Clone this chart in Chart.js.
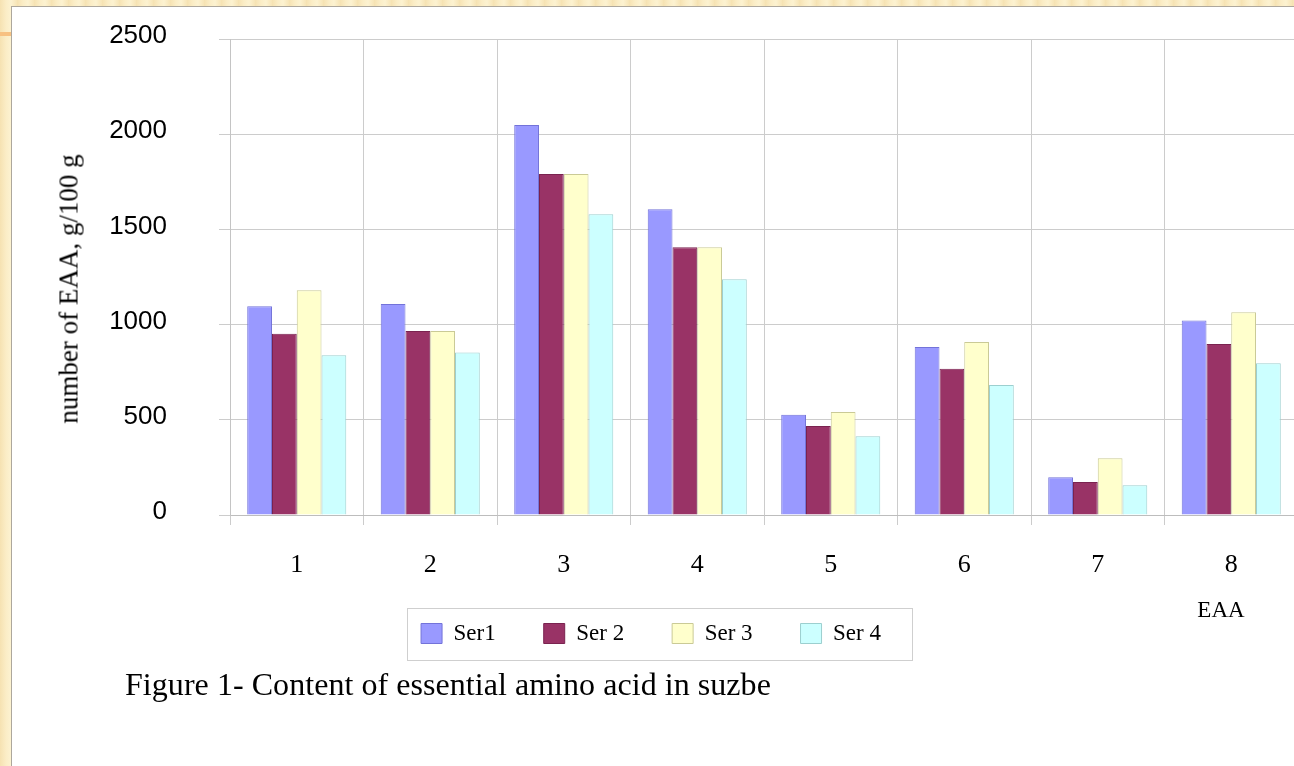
<!DOCTYPE html>
<html>
<head>
<meta charset="utf-8">
<script src="https://cdn.jsdelivr.net/npm/chart.js@4.4.1/dist/chart.umd.min.js"></script>
<style>
  html, body { margin: 0; padding: 0; width: 1294px; height: 766px; overflow: hidden; }
  body {
    position: relative;
    background-color: #FBEDC6;
    background-image: repeating-linear-gradient(90deg, rgba(235,205,140,0.35) 0px, rgba(235,205,140,0.0) 6px, rgba(255,250,225,0.4) 11px, rgba(235,205,140,0.25) 17px);
  }
  #panel {
    position: absolute; left: 11px; top: 6px; right: 0; bottom: 0;
    background: #ffffff;
    border-left: 1px solid #ADA79C; border-top: 1px solid #ADA79C;
  }
  #dash { position: absolute; left: 0; top: 32px; width: 11px; height: 4px; background: #F7C182; }
  #chartWrap { position: absolute; left: 0; top: 0; width: 1298px; height: 766px; }
  .txt { position: absolute; font-family: 'Liberation Serif', 'Times New Roman', serif; color: #000; white-space: nowrap; }
  #ytitle { font-size: 27px; left: 69px; top: 289px; transform: translate(-50%, -50%) rotate(-90deg); line-height: 1; }
  #xtitle { font-size: 23px; left: 1221px; top: 609px; transform: translate(-50%, -50%); line-height: 1; }
  #caption { font-size: 32px; left: 125px; top: 668px; line-height: 1; letter-spacing: 0.05px; }
</style>
</head>
<body>
<div id="panel"></div>
<div id="dash"></div>
<div id="chartWrap"><canvas id="c" width="1298" height="766"></canvas></div>
<div class="txt" id="ytitle">number of EAA, g/100 g</div>
<div class="txt" id="xtitle">EAA</div>
<div class="txt" id="caption">Figure 1- Content of essential amino acid in suzbe</div>
<script>
const categories = ['1', '2', '3', '4', '5', '6', '7', '8'];
const seriesNames = ['Ser1', 'Ser 2', 'Ser 3', 'Ser 4'];
const ser1 = [1096, 1108, 2048, 1606, 527, 882, 198, 1022];
const ser2 = [952, 966, 1791, 1406, 468, 768, 173, 898];
const ser3 = [1180, 966, 1791, 1406, 541, 909, 298, 1065];
const ser4 = [839, 854, 1579, 1238, 414, 683, 156, 797];
const yMin = 0, yMax = 2500, yStep = 500;

const fills = ['#9999FF', '#993366', '#FFFFCC', '#CCFFFF'];
const borders = ['#7373D9', '#7A2350', '#CACA96', '#9CCFCF'];
const values = [ser1, ser2, ser3, ser4];

const legendFrame = {
  id: 'legendFrame',
  afterDraw(chart) {
    const hb = chart.legend && chart.legend.legendHitBoxes;
    if (!hb || !hb.length) return;
    const first = hb[0], last = hb[hb.length - 1];
    const x0 = first.left - 14.5, x1 = last.left + last.width + 31;
    const y0 = first.top - 14.5, y1 = first.top + first.height + 14;
    const ctx = chart.ctx;
    ctx.save();
    ctx.strokeStyle = '#CFCFCF';
    ctx.lineWidth = 1;
    ctx.strokeRect(Math.round(x0) + 0.5, Math.round(y0) + 0.5, Math.round(x1 - x0), Math.round(y1 - y0));
    ctx.restore();
  }
};

new Chart(document.getElementById('c'), {
  type: 'bar',
  data: {
    labels: categories,
    datasets: values.map((v, i) => ({
      label: seriesNames[i],
      data: v,
      backgroundColor: fills[i],
      borderColor: borders[i],
      borderWidth: 1,
      categoryPercentage: 0.742,
      barPercentage: 1.0
    }))
  },
  options: {
    responsive: false,
    animation: false,
    devicePixelRatio: 1,
    layout: { padding: { left: 4, top: 39, right: 0, bottom: 111 } },
    plugins: {
      tooltip: { enabled: false },
      legend: {
        position: 'bottom',
        align: 'center',
        labels: {
          boxWidth: 21,
          boxHeight: 20,
          padding: 48,
          color: '#000',
          font: { family: "'Liberation Serif', 'Times New Roman', serif", size: 23 }
        }
      }
    },
    scales: {
      x: {
        grid: { display: true, color: '#CCCCCC', lineWidth: 1, tickLength: 10, offset: true },
        border: { display: true, color: '#BDBDBD' },
        ticks: {
          color: '#000',
          padding: 25,
          maxRotation: 0,
          font: { family: "'Liberation Serif', 'Times New Roman', serif", size: 26 }
        },
        afterFit(scale) {
          scale.height = 59;
          scale.paddingLeft = 0; scale.paddingRight = 0;
        }
      },
      y: {
        min: yMin,
        max: yMax,
        grid: { color: '#CCCCCC', lineWidth: 1, tickLength: 11 },
        border: { display: true, color: '#C4C4C4' },
        ticks: {
          stepSize: yStep,
          color: '#000',
          padding: 52,
          labelOffset: -3,
          callback: (v) => String(v),
          font: { family: "'Liberation Sans', Arial, sans-serif", size: 26 }
        },
        afterFit(scale) {
          scale.width = 226;
          scale.paddingTop = 0; scale.paddingBottom = 0;
        }
      }
    }
  },
  plugins: [legendFrame]
});
</script>
</body>
</html>
